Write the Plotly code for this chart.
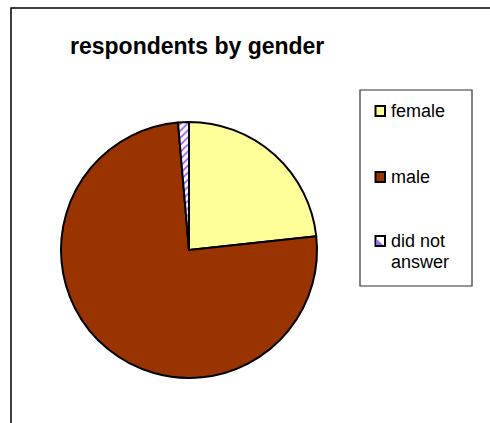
import plotly.graph_objects as go

# Respondent counts by gender
labels = ["female", "male", "did not answer"]
counts = [17, 55, 1]
legend_lines = [["female"], ["male"], ["did not", "answer"]]

W, H = 490, 423
FONT = "Liberation Sans, Arial, sans-serif"


def px(x):
    return x / W


def py(y):
    # pixel from top -> paper fraction from bottom
    return 1 - y / H


slice_colors = ["#ffff99", "#993300", "#ffffff"]

# Pie placement (centre and radius in pixels)
cx, cy, r = 189, 250, 128

fig = go.Figure(
    go.Pie(
        labels=labels,
        values=counts,
        sort=False,
        direction="clockwise",
        rotation=0,
        textinfo="none",
        showlegend=False,
        marker=dict(
            colors=slice_colors,
            line=dict(color="#000000", width=2),
            pattern=dict(
                shape=["", "", "/"],
                fgcolor="#9966ff",
                bgcolor=slice_colors,
                size=5,
                solidity=0.35,
            ),
        ),
        domain=dict(x=[px(cx - r), px(cx + r)], y=[py(cy + r), py(cy - r)]),
    )
)

shapes = []
annotations = []

# Chart area border (left and top edges)
shapes.append(dict(type="path", xref="paper", yref="paper",
                   path=f"M {px(11)} {py(H + 2)} L {px(11)} {py(8)} L {px(W + 2)} {py(8)}",
                   line=dict(color="#000000", width=1.5)))

# Legend frame
shapes.append(dict(type="rect", xref="paper", yref="paper",
                   x0=px(360), x1=px(472), y0=py(286), y1=py(90),
                   line=dict(color="#333333", width=1.2), fillcolor="#ffffff"))

legend_y = [111, 177, 241]
line_gap = 21
for i, lab in enumerate(labels):
    yc = legend_y[i]
    shapes.append(dict(type="rect", xref="paper", yref="paper",
                       x0=px(375.5), x1=px(385), y0=py(yc + 5), y1=py(yc - 5),
                       line=dict(color="#000000", width=2),
                       fillcolor=slice_colors[i]))
    if i == 2:
        shapes.append(dict(type="path", xref="paper", yref="paper",
                           path=(f"M {px(376.5)} {py(yc + 4)} L {px(376.5)} {py(yc - 2)} "
                                 f"L {px(383)} {py(yc + 4)} Z"),
                           line=dict(width=0), fillcolor="#9966ff"))
    for j, txt in enumerate(legend_lines[i]):
        annotations.append(dict(
            x=px(389), y=py(yc + j * line_gap), xref="paper", yref="paper",
            xanchor="left", yanchor="middle", showarrow=False, text=txt,
            font=dict(family=FONT, size=18, color="#000000")))

# Title
annotations.append(dict(
    x=px(68), y=py(46), xref="paper", yref="paper", xanchor="left",
    yanchor="middle", showarrow=False, text="<b>respondents by gender</b>",
    font=dict(family=FONT, size=23, color="#000000")))

fig.update_layout(
    width=W, height=H,
    margin=dict(l=0, r=0, t=0, b=0),
    paper_bgcolor="#ffffff",
    plot_bgcolor="#ffffff",
    shapes=shapes,
    annotations=annotations,
)

fig.write_html("out.html")
